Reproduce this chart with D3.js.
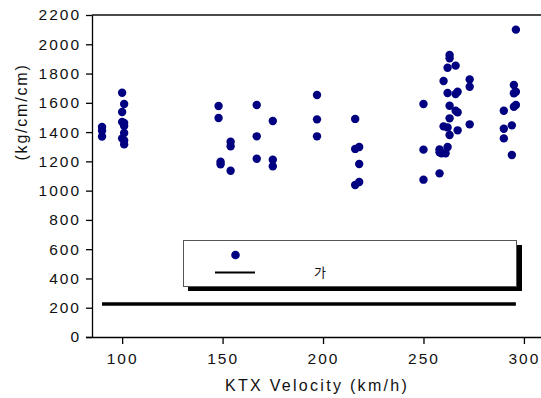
<!DOCTYPE html>
<html>
<head>
<meta charset="utf-8">
<script src="https://cdn.jsdelivr.net/npm/d3@7"></script>
<style>
  html, body { margin: 0; padding: 0; background: #fff; }
  svg { display: block; font-family: "Liberation Sans", Arial, sans-serif; }
</style>
</head>
<body>
<div id="chart"></div>
<script>
// Measured points (KTX velocity km/h, value kg/cm/cm)
const velocity = [
  90, 90, 90,
  100, 101, 100, 100, 101, 101, 101, 100, 101, 101,
  148, 148, 154, 154, 149, 149, 154,
  167, 167, 167,
  175, 175, 175,
  197, 197, 197,
  216, 216, 218, 218, 218, 216,
  250, 250, 250,
  258, 258, 258, 259, 261, 262,
  260, 262, 263, 267, 263, 266, 267, 263,
  262, 266, 267, 260, 263, 263, 262, 266,
  273, 273, 273,
  296, 295, 296, 295, 296, 295, 290, 290, 290, 294, 294
];
const stress = [
  1435, 1410, 1370,
  1669, 1592, 1537, 1469, 1462, 1441, 1394, 1357, 1343, 1316,
  1578, 1496, 1334, 1303, 1198, 1180, 1136,
  1585, 1371, 1218,
  1476, 1211, 1166,
  1653, 1487, 1371,
  1490, 1285, 1298, 1182, 1059, 1038,
  1592, 1280, 1075,
  1118, 1282, 1262, 1255, 1255, 1298,
  1439, 1432, 1380, 1412, 1494, 1546, 1535, 1580,
  1667, 1660, 1676, 1749, 1927, 1904, 1840, 1854,
  1760, 1710, 1453,
  2100, 1722, 1676, 1665, 1585, 1573, 1546, 1423, 1357, 1446, 1243
];

// Horizontal reference line
const limitVelocity = [90, 296];
const limitValue = [225, 225];

const xTicks = [100, 150, 200, 250, 300];
const yTicks = [0, 200, 400, 600, 800, 1000, 1200, 1400, 1600, 1800, 2000, 2200];
const legendLabel = "가";
const xTitle = "KTX Velocity (km/h)";
const yTitle = "(kg/cm/cm)";

const width = 541;
const height = 398;
const margin = {top: 15, right: 1, bottom: 61, left: 92};

const x = d3.scaleLinear()
  .domain([85, 308])
  .range([margin.left, width - margin.right]);
const y = d3.scaleLinear()
  .domain([0, 2200])
  .range([height - margin.bottom, margin.top]);

const svg = d3.select("#chart").append("svg")
  .attr("width", width)
  .attr("height", height);

// Top frame line
svg.append("line")
  .attr("x1", margin.left).attr("x2", width)
  .attr("y1", y(2200)).attr("y2", y(2200))
  .attr("stroke", "#4a4a4a")
  .attr("stroke-width", 2);

// Axes
const yAxis = g => g
  .attr("transform", `translate(${margin.left},0)`)
  .call(d3.axisLeft(y).tickValues(yTicks).tickFormat(d3.format("d"))
    .tickSize(6).tickPadding(5).tickSizeOuter(0))
  .call(g => g.selectAll("text")
    .attr("font-size", 15.5)
    .attr("letter-spacing", "2px")
    .attr("fill", "#111"))
  .call(g => g.selectAll("line, path").attr("stroke", "#000").attr("stroke-width", 1.3));

const xAxis = g => g
  .attr("transform", `translate(0,${y(0)})`)
  .call(d3.axisBottom(x).tickValues(xTicks).tickFormat(d3.format("d"))
    .tickSize(7).tickPadding(9).tickSizeOuter(0))
  .call(g => g.select(".domain").attr("d", `M${margin.left - 6},0.5H${width}`))
  .call(g => g.selectAll("text")
    .attr("font-size", 15.5)
    .attr("letter-spacing", "2px")
    .attr("fill", "#111"))
  .call(g => g.selectAll("line, path").attr("stroke", "#000").attr("stroke-width", 1.3));

svg.append("g").call(yAxis);
svg.append("g").call(xAxis);

// Axis titles
svg.append("text")
  .attr("x", 317)
  .attr("y", 391)
  .attr("text-anchor", "middle")
  .attr("font-size", 16)
  .attr("letter-spacing", "2.3px")
  .attr("fill", "#111")
  .text(xTitle);

svg.append("text")
  .attr("transform", "translate(27,112) rotate(-90)")
  .attr("text-anchor", "middle")
  .attr("font-size", 16)
  .attr("letter-spacing", "1.8px")
  .attr("fill", "#111")
  .text(yTitle);

// Reference line
svg.append("path")
  .datum(d3.zip(limitVelocity, limitValue))
  .attr("fill", "none")
  .attr("stroke", "#000")
  .attr("stroke-width", 3.5)
  .attr("d", d3.line().x(d => x(d[0])).y(d => y(d[1])));

// Legend box with drop shadow
const legend = svg.append("g").attr("transform", "translate(183,240)");
legend.append("rect")
  .attr("x", 5).attr("y", 5)
  .attr("width", 334).attr("height", 46)
  .attr("fill", "#000");
legend.append("rect")
  .attr("x", 0.5).attr("y", 0.5)
  .attr("width", 333).attr("height", 46)
  .attr("fill", "#fff")
  .attr("stroke", "#555")
  .attr("stroke-width", 1);
legend.append("circle")
  .attr("cx", 52.5).attr("cy", 15)
  .attr("r", 4.3)
  .attr("fill", "#000080");
legend.append("line")
  .attr("x1", 32).attr("x2", 72)
  .attr("y1", 32.5).attr("y2", 32.5)
  .attr("stroke", "#000")
  .attr("stroke-width", 2.2);
legend.append("text")
  .attr("x", 137).attr("y", 37)
  .attr("text-anchor", "middle")
  .attr("font-family", "'Noto Sans CJK KR', sans-serif")
  .attr("font-size", 13)
  .attr("fill", "#111")
  .text(legendLabel);

// Scatter points
svg.append("g")
  .attr("fill", "#000080")
  .selectAll("circle")
  .data(d3.zip(velocity, stress))
  .join("circle")
  .attr("cx", d => x(d[0]))
  .attr("cy", d => y(d[1]))
  .attr("r", 4.2);
</script>
</body>
</html>
